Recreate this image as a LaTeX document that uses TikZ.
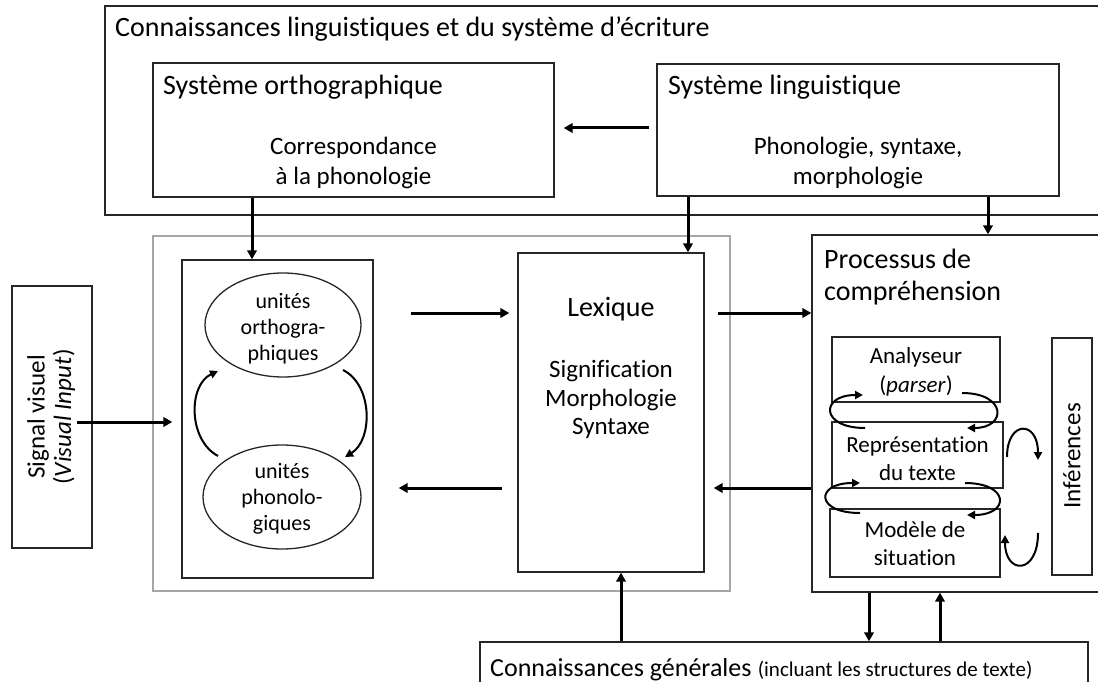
\documentclass[tikz,border=0pt]{standalone}
\usepackage{fontspec}
\setmainfont{Carlito}[Ligatures={NoCommon,NoContextual,NoRare}]
\usetikzlibrary{arrows.meta,shapes.geometric}
\begin{document}
\begin{tikzpicture}[x=1pt,y=-1pt,
  box/.style={draw=black!85, line width=1.4pt, rectangle, inner sep=0pt},
  graybox/.style={draw=black!35, line width=1.5pt, rectangle, inner sep=0pt},
  oval/.style={draw=black!85, line width=1.3pt, ellipse, inner sep=0pt},
  big/.style={font=\fontsize{28}{33}\selectfont, inner sep=0pt},
  body/.style={font=\fontsize{25}{29}\selectfont, inner sep=0pt},
  mid/.style={font=\fontsize{23}{27}\selectfont, inner sep=0pt},
  small/.style={font=\fontsize{22}{26}\selectfont, inner sep=0pt},
  flow/.style={line width=3pt, -{Triangle[length=9pt,width=9.5pt]}},
  cycle/.style={line width=2pt, -{Triangle[length=8pt,width=8pt]}}]
\useasboundingbox (0,0) rectangle (1098,682);
\begin{scope}
\clip (0,0) rectangle (1098,682);

% outer knowledge frame and its two systems
\node[box, minimum width=1005, minimum height=209] (know) at (607.5,110.5) {};
\node[box, minimum width=401, minimum height=134] (ortho) at (353.5,130) {};
\node[box, minimum width=402, minimum height=132] (ling) at (858,130) {};

% word recognition area
\node[graybox, minimum width=577, minimum height=355] (word) at (441.5,413.5) {};
\node[box, minimum width=191, minimum height=318] (units) at (277.5,419) {};
\node[oval, minimum width=156, minimum height=104] (orthu) at (283,325) {};
\node[oval, minimum width=158, minimum height=104] (phonu) at (282,497) {};
\node[box, minimum width=186, minimum height=319] (lex) at (611,412.5) {};

% comprehension processes
\node[box, minimum width=298, minimum height=357] (proc) at (961,413.5) {};
\node[box, minimum width=168, minimum height=65] (parse) at (916,369.5) {};
\node[box, minimum width=171, minimum height=66] (repr) at (917.5,455) {};
\node[box, minimum width=170, minimum height=68] (model) at (915,543) {};
\node[box, minimum width=40, minimum height=237] (infer) at (1072,456.5) {};

% input and general knowledge
\node[box, minimum width=80, minimum height=262] (signal) at (52,417) {};
\node[box, minimum width=608, minimum height=78] (gen) at (784,681) {};

% texts
\node[big, anchor=base west] (knowT) at (115,37) {Connaissances linguistiques et du système d’écriture};
\node[big, anchor=base west] (orthoT) at (163,95) {Système orthographique};
\node[body, anchor=base] (orthoA) at (353.5,155) {Correspondance};
\node[body, anchor=base] (orthoB) at (353.5,185) {à la phonologie};
\node[big, anchor=base west] (lingT) at (668,95) {Système linguistique};
\node[body, anchor=base] (lingA) at (858,155) {Phonologie, syntaxe,};
\node[body, anchor=base] (lingB) at (858,185) {morphologie};

\node[small, anchor=base] (ou1) at (283,308) {unités};
\node[small, anchor=base] (ou2) at (283,334) {orthogra-};
\node[small, anchor=base] (ou3) at (283,360) {phiques};
\node[small, anchor=base] (pu1) at (282,478) {unités};
\node[small, anchor=base] (pu2) at (282,504) {phonolo-};
\node[small, anchor=base] (pu3) at (282,530) {giques};

\node[big, anchor=base] (lexT) at (611,316) {Lexique};
\node[body, anchor=base] (lex1) at (611,377) {Signification};
\node[body, anchor=base] (lex2) at (611,406) {Morphologie};
\node[body, anchor=base] (lex3) at (611,434) {Syntaxe};

\node[big, anchor=base west] (procA) at (824,268) {Processus de};
\node[big, anchor=base west] (procB) at (824,300) {compréhension};
\node[mid, anchor=base] (parseA) at (916,363) {Analyseur};
\node[mid, anchor=base] (parseB) at (916,392) {(\textit{parser})};
\node[mid, anchor=base] (reprA) at (917.5,452) {Représentation};
\node[mid, anchor=base] (reprB) at (917.5,480) {du texte};
\node[mid, anchor=base] (modelA) at (915,537) {Modèle de};
\node[mid, anchor=base] (modelB) at (915,565) {situation};
\node[body, rotate=90] (inferT) at (1072,456) {Inférences};

\node[body, rotate=90] (sigA) at (38,417) {Signal visuel};
\node[body, rotate=90] (sigB) at (64,417) {(\textit{Visual Input})};

\node[anchor=base west, inner sep=0pt] (genT) at (490,676)
  {{\fontsize{26}{30}\selectfont Connaissances générales}\hspace{4pt} {\fontsize{21}{25}\selectfont (incluant les structures de texte)}};

% connector positions
\coordinate (xa) at (252,0);
\coordinate (xb) at (688,0);
\coordinate (xc) at (988,0);
\coordinate (xd) at (621,0);
\coordinate (xe) at (869,0);
\coordinate (xf) at (940,0);
\coordinate (ya) at (0,313);
\coordinate (yb) at (0,488);
\coordinate (yc) at (0,128);
\coordinate (sigout) at (77,422);

% straight connectors
\draw[flow, shorten <=7pt, shorten >=9pt] (ling.west |- yc) -- (ortho.east |- yc);
\draw[flow] (xa |- ortho.south) -- (xa |- units.north);
\draw[flow] (xb |- ling.south) -- (xb |- lex.north);
\draw[flow] (xc |- ling.south) -- (xc |- proc.north);
\draw[flow, shorten >=9pt] (sigout) -- (sigout -| units.west);
\draw[flow, shorten <=37pt, shorten >=8pt] (units.east |- ya) -- (lex.west |- ya);
\draw[flow, shorten <=15pt, shorten >=25pt] (lex.west |- yb) -- (units.east |- yb);
\draw[flow, shorten <=13pt] (lex.east |- ya) -- (proc.west |- ya);
\draw[flow, shorten >=9pt] (proc.west |- yb) -- (lex.east |- yb);
\draw[flow] (xd |- gen.north) -- (xd |- lex.south);
\draw[flow] (xe |- proc.south) -- (xe |- gen.north);
\draw[flow] (xf |- gen.north) -- (xf |- proc.south);

% orthographic / phonological cycle
\draw[cycle] (218,456) .. controls (188,440) and (188,385) .. (218,371);
\draw[cycle] (343,370) .. controls (373,385) and (373,440) .. (345,457);

% parser / text representation / situation model cycles
\draw[cycle] (865,428) .. controls (820,428) and (820,395) .. (863,395);
\draw[cycle] (962,393) .. controls (1007,393) and (1007,428) .. (967,428);
\draw[cycle] (860,513) .. controls (815,513) and (815,483) .. (860,483);
\draw[cycle] (965,483) .. controls (1010,483) and (1010,515) .. (967,515);

% exchanges with inferences
\draw[cycle] (1007,457) .. controls (1007,420) and (1038,420) .. (1038,460);
\draw[cycle] (1038,533) .. controls (1038,575) and (1005,575) .. (1005,535);
\end{scope}
\end{tikzpicture}
\end{document}
